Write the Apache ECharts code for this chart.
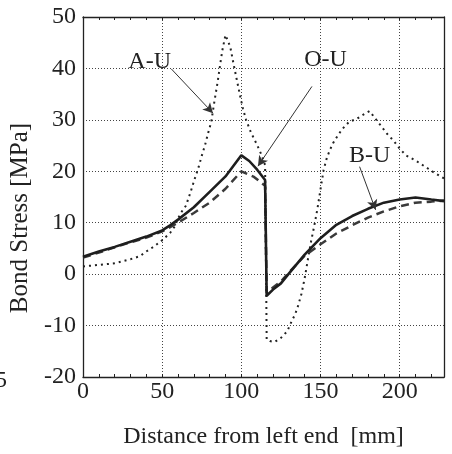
<!DOCTYPE html>
<html>
<head>
<meta charset="utf-8">
<script src="https://cdn.jsdelivr.net/npm/echarts@6/dist/echarts.min.js"></script>
<style>
html,body{margin:0;padding:0;background:#fff;}
#chart{width:452px;height:454px;}
</style>
</head>
<body>
<div id="chart"></div>
<script>
// Tick settings
const xTicks = [0, 50, 100, 150, 200];
const yTicks = [-20, -10, 0, 10, 20, 30, 40, 50];

// O-U (solid)
const ouX = [0,10,20,30,40,50,55,60,70,80,90,100,105,110,115,116,120,125,130,140,150,160,170,180,190,200,210,220,228];
const ouY = [3.4,4.4,5.3,6.3,7.3,8.5,9.5,10.6,13.0,16.0,19.0,23.1,22.0,20.3,18.3,-4.2,-3.0,-1.8,0.1,3.8,7.0,9.6,11.3,12.7,13.9,14.5,14.9,14.5,14.2];

// B-U (dashed)
const buX = [0,10,20,30,40,50,60,70,80,90,100,108,115,116,120,125,130,140,150,160,170,180,190,200,210,220,228];
const buY = [3.2,4.2,5.2,6.2,7.1,8.3,10.0,11.9,13.9,16.6,20.0,18.9,17.2,-3.6,-2.6,-1.4,0.3,3.6,5.8,7.9,9.5,11.0,12.2,13.2,13.9,14.1,14.3];

// A-U (dotted)
const auX = [0,10,20,30,36,40,45,50,55,58,60,62,65,68,70,73,75,77,79,81,83,85,87,88,90,91,93,95,97,99,101,103,106,110,113,115,116,118,121,125,129,132,134,136,138,140,142,144,146,148,150,152,154,156,158,161,164,168,173,177,181,184,188,192,196,200,204,210,216,221,228];
const auY = [1.5,1.8,2.1,2.9,3.5,4.4,5.4,6.6,8.0,9.3,10.8,12.0,13.3,16.0,18.0,20.8,23.0,25.0,27.4,29.6,33.6,37.3,41.5,43.5,46.5,46.5,44.2,41.0,38.0,35.0,32.2,30.0,27.6,25.1,23.0,21.2,-12.7,-13.0,-13.2,-12.4,-11.1,-9.0,-7.8,-6.0,-3.8,-0.8,2.8,6.3,9.3,12.6,16.5,20.3,22.6,24.2,25.5,27.0,28.3,29.6,30.2,31.0,31.7,30.5,28.9,27.3,26.0,24.4,23.1,22.1,20.9,19.9,18.6];

// Annotations: label text, label position, arrow start, arrow end (data coords)
const annLabels = ['A-U', 'O-U', 'B-U'];
const annTextPos = [[42.1, 41.3], [153.2, 41.7], [181, 23.1]];
const annArrowFrom = [[55.8, 39.9], [144.6, 36.5], [174.7, 20.9]];
const annArrowTo = [[82.1, 31.3], [110.5, 21.0], [184.8, 12.5]];

const FONT = "'Liberation Serif','Times New Roman',serif";
const INK = '#222';

function zip(xs, ys){ return xs.map((x,i)=>[x, ys[i]]); }

const chart = echarts.init(document.getElementById('chart'), null, {renderer:'canvas'});

const option = {
  animation: false,
  backgroundColor: '#fff',
  grid: {left: 83, right: 8, top: 17, bottom: 76, containLabel: false},
  xAxis: [
    {
      type: 'value', min: 0, max: 228, interval: 50, position: 'bottom',
      name: 'Distance from left end  [mm]', nameLocation: 'middle', nameGap: 48,
      nameTextStyle: {fontFamily: FONT, fontSize: 24, color: INK},
      axisLine: {show: true, onZero: false, lineStyle: {color: INK, width: 1.3}},
      axisTick: {show: false},
      axisLabel: {fontFamily: FONT, fontSize: 24, color: INK, margin: 3, showMaxLabel: false,
        formatter: v => xTicks.includes(v) ? String(v) : ''},
      splitLine: {show: true, lineStyle: {color: '#444', type: [1, 2], width: 1}}
    },
    {
      type: 'value', min: 0, max: 228, interval: 10, position: 'top',
      axisLine: {show: true, onZero: false, lineStyle: {color: INK, width: 1.3}},
      axisTick: {show: true, inside: true, length: 3, lineStyle: {color: INK}},
      axisLabel: {show: false}, splitLine: {show: false}
    },
    {
      type: 'value', min: 0, max: 228, interval: 10, position: 'bottom',
      axisLine: {show: false, onZero: false},
      axisTick: {show: true, inside: true, length: 3, lineStyle: {color: INK}},
      axisLabel: {show: false}, splitLine: {show: false}
    }
  ],
  yAxis: [
    {
      type: 'value', min: -20, max: 50, interval: 10, position: 'left',
      name: 'Bond Stress [MPa]', nameLocation: 'middle', nameGap: 41, nameRotate: 90,
      nameTextStyle: {fontFamily: FONT, fontSize: 25, color: INK, padding: [0, 42, 0, 0]},
      axisLine: {show: true, onZero: false, lineStyle: {color: INK, width: 1.3}},
      axisTick: {show: false},
      axisLabel: {fontFamily: FONT, fontSize: 24, color: INK, margin: 7,
        formatter: v => yTicks.includes(v) ? String(v) : ''},
      splitLine: {show: true, lineStyle: {color: '#444', type: [1, 2], width: 1}}
    },
    {
      type: 'value', min: -20, max: 50, interval: 10, position: 'right',
      axisLine: {show: true, onZero: false, lineStyle: {color: INK, width: 1.3}},
      axisTick: {show: false}, axisLabel: {show: false}, splitLine: {show: false}
    }
  ],
  graphic: [
    {type: 'text', left: -5, top: 369, style: {text: '5', fontFamily: FONT, fontSize: 24, fill: INK}}
  ],
  series: [
    {
      name: 'A-U', type: 'line', data: zip(auX, auY), symbol: 'none', smooth: false,
      lineStyle: {color: '#222', width: 2, type: [2, 4]}, z: 2
    },
    {
      name: 'B-U', type: 'line', data: zip(buX, buY), symbol: 'none',
      lineStyle: {color: '#3a3a3a', width: 2.5, type: [8, 5]}, z: 3
    },
    {
      name: 'O-U', type: 'line', data: zip(ouX, ouY), symbol: 'none',
      lineStyle: {color: '#1e1e1e', width: 2.6}, z: 4,
      markLine: {
        silent: true, symbol: ['none', 'arrow'], symbolSize: [8, 10], precision: 2,
        lineStyle: {color: '#333', width: 1, type: 'solid'},
        label: {show: false},
        data: annArrowFrom.map((p, i) => [{coord: p}, {coord: annArrowTo[i]}])
      },
      markPoint: {
        silent: true, symbol: 'circle', symbolSize: 1,
        itemStyle: {color: 'rgba(0,0,0,0)'},
        label: {show: true, position: 'inside', fontFamily: FONT, fontSize: 24, color: INK,
          formatter: p => p.name},
        data: annLabels.map((t, i) => ({name: t, coord: annTextPos[i]}))
      }
    }
  ]
};
chart.setOption(option);
</script>
</body>
</html>
